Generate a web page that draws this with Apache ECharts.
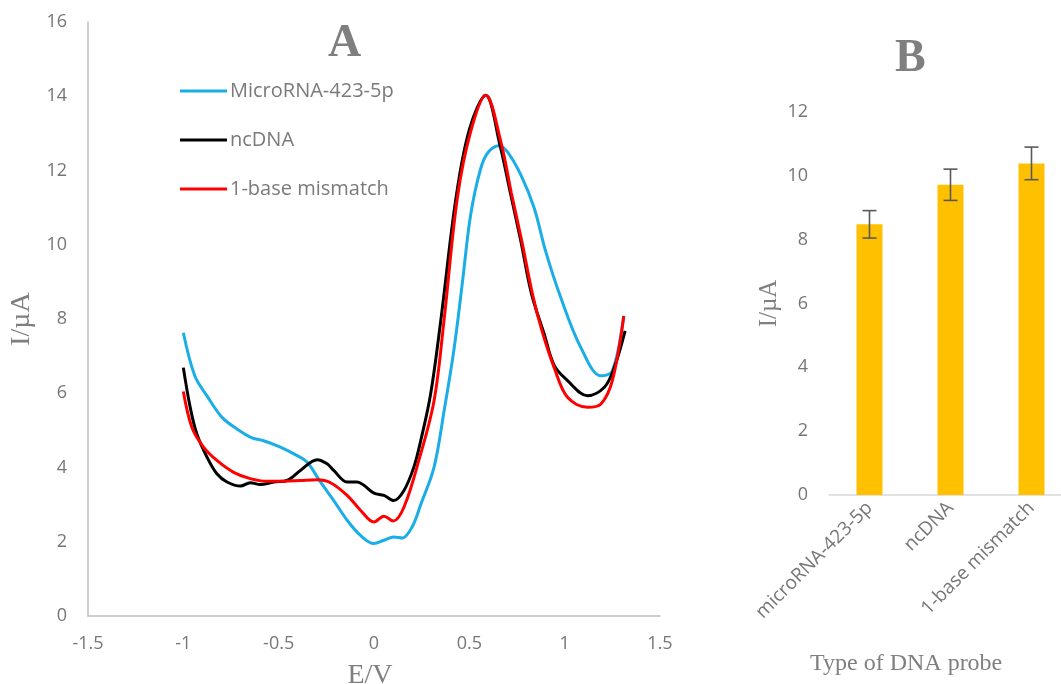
<!DOCTYPE html>
<html>
<head>
<meta charset="utf-8">
<script src="https://cdn.jsdelivr.net/npm/echarts@6/dist/echarts.min.js"></script>
<style>
html,body{margin:0;padding:0;background:#fff;}
#main{width:1061px;height:684px;}
</style>
</head>
<body>
<div id="main"></div>
<script>
// ---- Panel A data (E/V vs I/µA) ----
const seriesNames = ['MicroRNA-423-5p', 'ncDNA', '1-base mismatch'];
const blueX = [-1.00,-0.94,-0.876,-0.797,-0.719,-0.64,-0.579,-0.491,-0.403,-0.35,-0.281,-0.211,-0.141,-0.071,0.0,0.052,0.104,0.148,0.20,0.245,0.315,0.37,0.42,0.464,0.507,0.56,0.60,0.656,0.70,0.77,0.84,0.90,0.98,1.085,1.19,1.25,1.31];
const blueY = [7.63,6.47,5.93,5.35,5.04,4.80,4.72,4.55,4.32,4.14,3.61,3.11,2.58,2.17,1.95,2.04,2.13,2.10,2.40,3.00,4.01,5.60,7.20,9.00,10.81,12.06,12.50,12.67,12.50,11.88,10.99,9.83,8.57,7.23,6.47,6.60,8.08];
const blackX = [-1.0,-0.964,-0.929,-0.876,-0.824,-0.771,-0.70,-0.649,-0.596,-0.526,-0.456,-0.386,-0.298,-0.246,-0.211,-0.141,-0.088,-0.053,0.0,0.052,0.104,0.157,0.209,0.245,0.297,0.35,0.43,0.50,0.586,0.66,0.715,0.77,0.825,0.893,0.945,1.015,1.12,1.208,1.26,1.317];
const blackY = [6.69,5.62,4.90,4.28,3.83,3.61,3.50,3.59,3.54,3.61,3.65,3.92,4.21,4.10,3.92,3.61,3.61,3.52,3.31,3.25,3.11,3.38,4.01,4.72,5.98,7.95,11.26,13.10,14.03,12.70,11.40,10.10,8.70,7.59,6.75,6.34,5.93,6.16,6.69,7.68];
const redX = [-1.0,-0.955,-0.894,-0.824,-0.736,-0.649,-0.561,-0.474,-0.386,-0.298,-0.228,-0.141,-0.071,0.0,0.052,0.101,0.157,0.235,0.315,0.367,0.437,0.507,0.586,0.665,0.72,0.775,0.83,0.88,0.945,1.015,1.12,1.19,1.25,1.31];
const redY = [6.05,5.08,4.55,4.19,3.87,3.70,3.63,3.63,3.65,3.67,3.59,3.25,2.85,2.53,2.69,2.56,2.93,4.19,5.80,7.95,11.26,13.05,14.03,12.78,11.40,10.10,8.70,7.70,6.69,5.89,5.62,5.71,6.34,8.08];
const xTicksA = {min: -1.5, max: 1.5, interval: 0.5};
const yTicksA = {min: 0, max: 16, interval: 2};

// ---- Panel B data ----
const probeTypes = ['microRNA-423-5p', 'ncDNA', '1-base mismatch'];
const probeCurrent = [8.48, 9.72, 10.39];
const probeError = [0.43, 0.49, 0.51];
const yTicksB = {min: 0, max: 12, interval: 2};

const zip = (xs, ys) => xs.map((x, i) => [x, ys[i]]);
const tickColor = '#767676';
const sans = '"Open Sans", "Noto Sans", sans-serif';
const serif = '"Liberation Serif", "DejaVu Serif", serif';

const chart = echarts.init(document.getElementById('main'), null, {renderer: 'canvas'});
const option = {
  backgroundColor: '#ffffff',
  animation: false,
  graphic: [
    {type: 'text', left: 328, top: 21, style: {text: 'A', font: 'bold 46px ' + serif, fill: '#7f7f7f'}},
    {type: 'text', left: 895, top: 36, style: {text: 'B', font: 'bold 46px ' + serif, fill: '#7f7f7f'}},
    {type: 'text', left: 810, top: 652, style: {text: 'Type of DNA probe', font: '24px ' + serif, fill: '#7f7f7f'}}
  ],
  legend: {
    data: seriesNames,
    orient: 'vertical',
    left: 175,
    top: 76,
    icon: 'rect',
    itemWidth: 47,
    itemHeight: 3,
    itemGap: 29,
    textStyle: {fontFamily: sans, fontSize: 20, color: '#7a7a7a', padding: [0, 0, 0, -2]}
  },
  grid: [
    {left: 88, right: 401, top: 22, bottom: 68, outerBoundsMode: 'none', containLabel: false},
    {left: 829, width: 243, top: 112, bottom: 189, outerBoundsMode: 'none', containLabel: false}
  ],
  xAxis: [
    {
      type: 'value', gridIndex: 0, min: xTicksA.min, max: xTicksA.max, interval: xTicksA.interval,
      axisLine: {show: true, onZero: false, lineStyle: {color: '#bfbfbf', width: 1.5}},
      axisTick: {show: false}, splitLine: {show: false},
      axisLabel: {color: tickColor, fontFamily: sans, fontSize: 18, margin: 19},
      name: 'E/V', nameLocation: 'middle', nameGap: 46,
      nameTextStyle: {fontFamily: serif, fontSize: 28, color: '#7f7f7f', padding: [0, 8, 0, 0]}
    },
    {
      type: 'category', gridIndex: 1, data: probeTypes,
      axisLine: {show: true, lineStyle: {color: '#d9d9d9', width: 1.5}},
      axisTick: {show: false},
      axisLabel: {color: tickColor, fontFamily: sans, fontSize: 19, rotate: 45, interval: 0, margin: 10}
    }
  ],
  yAxis: [
    {
      type: 'value', gridIndex: 0, min: yTicksA.min, max: yTicksA.max, interval: yTicksA.interval,
      axisLine: {show: true, onZero: false, lineStyle: {color: '#bfbfbf', width: 1.5}},
      axisTick: {show: false}, splitLine: {show: false},
      axisLabel: {color: tickColor, fontFamily: sans, fontSize: 18, margin: 21},
      name: 'I/µA', nameLocation: 'middle', nameGap: 50,
      nameTextStyle: {fontFamily: serif, fontSize: 28, color: '#7f7f7f'}
    },
    {
      type: 'value', gridIndex: 1, min: yTicksB.min, max: yTicksB.max, interval: yTicksB.interval,
      axisLine: {show: false}, axisTick: {show: false}, splitLine: {show: false},
      axisLabel: {color: tickColor, fontFamily: sans, fontSize: 18, margin: 21},
      name: 'I/µA', nameLocation: 'middle', nameGap: 47,
      nameTextStyle: {fontFamily: serif, fontSize: 25, color: '#7f7f7f'}
    }
  ],
  series: [
    {name: seriesNames[0], type: 'line', xAxisIndex: 0, yAxisIndex: 0, data: zip(blueX, blueY), smooth: 0.35, showSymbol: false, lineStyle: {color: '#1aade6', width: 3}, itemStyle: {color: '#1aade6'}},
    {name: seriesNames[1], type: 'line', xAxisIndex: 0, yAxisIndex: 0, data: zip(blackX, blackY), smooth: 0.35, showSymbol: false, lineStyle: {color: '#000000', width: 3}, itemStyle: {color: '#000000'}},
    {name: seriesNames[2], type: 'line', xAxisIndex: 0, yAxisIndex: 0, data: zip(redX, redY), smooth: 0.35, showSymbol: false, lineStyle: {color: '#ff0000', width: 3}, itemStyle: {color: '#ff0000'}},
    {
      type: 'bar', xAxisIndex: 1, yAxisIndex: 1, data: probeCurrent, barWidth: 26,
      itemStyle: {color: '#ffc000'}
    },
    {
      type: 'custom', xAxisIndex: 1, yAxisIndex: 1,
      data: probeCurrent.map((v, i) => [i, v - probeError[i], v + probeError[i]]),
      renderItem: function (params, api) {
        const lo = api.coord([api.value(0), api.value(1)]);
        const hi = api.coord([api.value(0), api.value(2)]);
        const h = 7;
        const st = {stroke: '#595959', lineWidth: 1.6};
        return {type: 'group', children: [
          {type: 'line', shape: {x1: lo[0], y1: lo[1], x2: hi[0], y2: hi[1]}, style: st},
          {type: 'line', shape: {x1: lo[0] - h, y1: lo[1], x2: lo[0] + h, y2: lo[1]}, style: st},
          {type: 'line', shape: {x1: hi[0] - h, y1: hi[1], x2: hi[0] + h, y2: hi[1]}, style: st}
        ]};
      },
      z: 10
    }
  ]
};
chart.setOption(option);
</script>
</body>
</html>
